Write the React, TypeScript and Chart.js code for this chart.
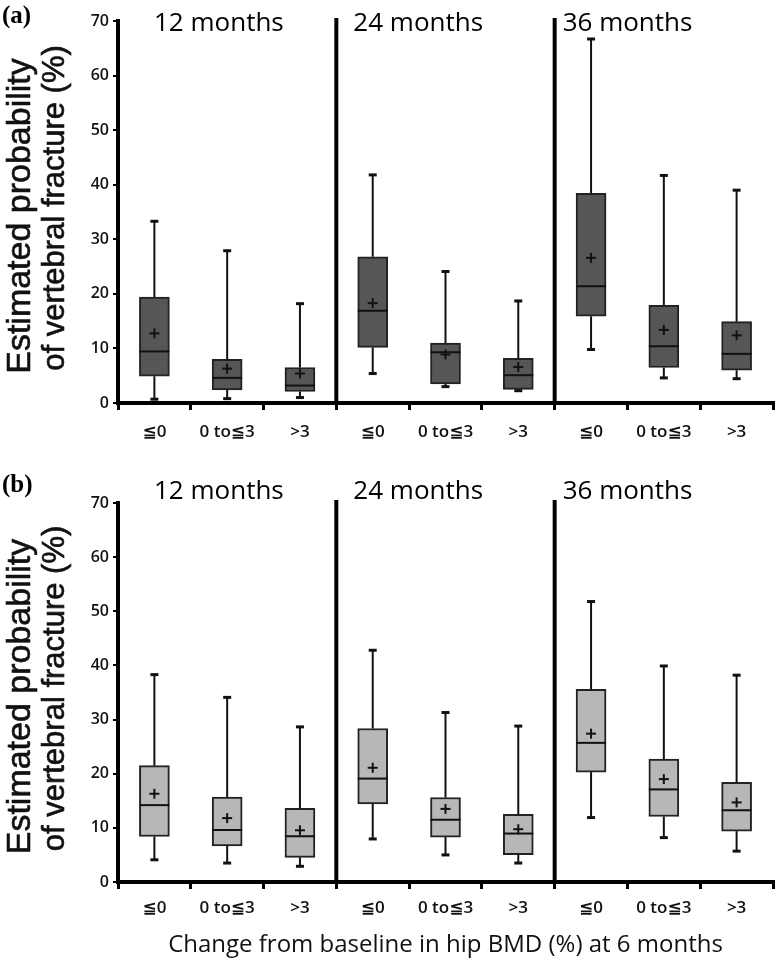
import React, { useEffect, useRef } from "react";
import { Chart, registerables } from "chart.js";
Chart.register(...registerables);

// ---------- data ----------
const categories = ["≦0", "0 to≦3", ">3", "≦0", "0 to≦3", ">3", "≦0", "0 to≦3", ">3"];
const groupTitles = ["12 months", "24 months", "36 months"];
const yAxisTitle = ["Estimated probability", "of vertebral fracture (%)"];
const xAxisTitle = "Change from baseline in hip BMD (%) at 6 months";

// panel (a)
const minA = [0.7, 0.8, 1.0, 5.4, 3.0, 2.25, 9.8, 4.6, 4.45];
const q1A = [4.9, 2.4, 2.1, 10.2, 3.5, 2.5, 15.9, 6.5, 6.0];
const medA = [9.45, 4.6, 3.2, 16.9, 9.3, 5.1, 21.4, 10.4, 9.0];
const q3A = [19.4, 8.0, 6.5, 26.8, 11.0, 8.2, 38.4, 17.9, 14.9];
const maxA = [33.3, 27.9, 18.2, 41.8, 24.1, 18.7, 66.7, 41.7, 39.0];
const meanA = [12.75, 6.3, 5.4, 18.3, 8.9, 6.6, 26.6, 13.4, 12.4];

// panel (b)
const minB = [4.1, 3.5, 2.9, 7.95, 5.0, 3.5, 11.9, 8.2, 5.7];
const q1B = [8.4, 6.65, 4.55, 14.4, 8.3, 5.05, 20.3, 12.1, 9.4];
const medB = [14.2, 9.6, 8.45, 19.1, 11.5, 8.95, 25.7, 17.1, 13.25];
const q3B = [21.5, 15.7, 13.6, 28.35, 15.6, 12.5, 35.6, 22.7, 18.4];
const maxB = [38.3, 34.1, 28.65, 42.8, 31.3, 28.8, 51.8, 39.9, 38.2];
const meanB = [16.3, 11.8, 9.55, 21.1, 13.5, 9.75, 27.4, 19.0, 14.7];

const yMin = 0;
const yMax = 70;
const yStep = 10;

type PanelDef = {
  tag: string;
  min: number[];
  q1: number[];
  med: number[];
  q3: number[];
  max: number[];
  mean: number[];
  fill: string;
  height: number;
  padTop: number;
  xAxisH: number;
  xPad: number;
  titleY: number;
  tagY: number;
  showXTitle: boolean;
};

const panels: PanelDef[] = [
  {
    tag: "(a)", min: minA, q1: q1A, med: medA, q3: q3A, max: maxA, mean: meanA,
    fill: "#565656", height: 460, padTop: 21, xAxisH: 57, xPad: 12, titleY: 24, tagY: 17, showXTitle: false,
  },
  {
    tag: "(b)", min: minB, q1: q1B, med: medB, q3: q3B, max: maxB, mean: meanB,
    fill: "#b7b7b7", height: 507, padTop: 43, xAxisH: 85, xPad: 9, titleY: 32, tagY: 26, showXTitle: true,
  },
];

const titleOffsets = [36, 17, 8];

function Panel({ p }: { p: PanelDef }) {
  const ref = useRef<HTMLCanvasElement | null>(null);
  useEffect(() => {
    const canvas = ref.current;
    if (!canvas) return;
    const extras = {
      id: "boxExtras",
      afterDatasetsDraw(chart: any) {
        const ctx = chart.ctx as CanvasRenderingContext2D;
        const ys = chart.scales.y;
        const xs = chart.scales.x;
        const area = chart.chartArea;
        const meta = chart.getDatasetMeta(0);
        const line = (x1: number, y1: number, x2: number, y2: number) => {
          ctx.beginPath();
          ctx.moveTo(x1, y1);
          ctx.lineTo(x2, y2);
          ctx.stroke();
        };
        ctx.save();
        ctx.strokeStyle = "#111";
        meta.data.forEach((bar: any, i: number) => {
          const cx = bar.x;
          const w = bar.width;
          const yq1 = ys.getPixelForValue(p.q1[i]);
          const yq3 = ys.getPixelForValue(p.q3[i]);
          const ymin = ys.getPixelForValue(p.min[i]);
          const ymax = ys.getPixelForValue(p.max[i]);
          const ymed = ys.getPixelForValue(p.med[i]);
          const ymean = ys.getPixelForValue(p.mean[i]);
          ctx.lineWidth = 2;
          line(cx, yq3, cx, ymax);
          line(cx, yq1, cx, ymin);
          ctx.lineWidth = 3;
          line(cx - 4, ymax, cx + 4, ymax);
          line(cx - 4, ymin, cx + 4, ymin);
          ctx.lineWidth = 2;
          line(cx - w / 2, ymed, cx + w / 2, ymed);
          line(cx - 5, ymean, cx + 5, ymean);
          line(cx, ymean - 5, cx, ymean + 5);
        });
        // group dividers
        const bnd = (i: number) => (xs.getPixelForValue(i) + xs.getPixelForValue(i + 1)) / 2;
        ctx.strokeStyle = "#000";
        ctx.lineWidth = 4;
        [2, 5].forEach((i) => line(bnd(i), area.top - 3, bnd(i), area.bottom));
        // group titles
        const lefts = [area.left, bnd(2), bnd(5)];
        ctx.fillStyle = "#000";
        ctx.font = "26px 'Open Sans'";
        ctx.textAlign = "left";
        ctx.textBaseline = "middle";
        groupTitles.forEach((t, g) => ctx.fillText(t, lefts[g] + titleOffsets[g], p.titleY));
        // panel tag
        ctx.font = "bold 25px 'Liberation Serif'";
        ctx.fillText(p.tag, 2, p.tagY);
        // y axis title
        const yc = (area.top + area.bottom) / 2;
        const drawV = (text: string, x: number, y: number, size: number) => {
          ctx.save();
          ctx.font = `${size}px 'Liberation Sans'`;
          ctx.fillStyle = "#111";
          ctx.strokeStyle = "#111";
          ctx.lineWidth = 0.6;
          ctx.textAlign = "center";
          ctx.textBaseline = "middle";
          ctx.translate(x, y);
          ctx.rotate(-Math.PI / 2);
          ctx.fillText(text, 0, 0);
          ctx.strokeText(text, 0, 0);
          ctx.restore();
        };
        drawV(yAxisTitle[0], 21, yc + 4, 34);
        drawV(yAxisTitle[1], 55, yc - 4, 31);
        if (p.showXTitle) {
          ctx.font = "24px 'Open Sans'";
          ctx.fillStyle = "#111";
          ctx.textAlign = "center";
          ctx.textBaseline = "middle";
          ctx.fillText(xAxisTitle, (area.left + area.right) / 2, 485);
        }
        ctx.restore();
      },
    };
    const chart = new Chart(canvas, {
      type: "bar",
      data: {
        labels: categories,
        datasets: [
          {
            data: p.q1.map((v, i) => [v, p.q3[i]]) as any,
            backgroundColor: p.fill,
            borderColor: "#222",
            borderWidth: 2,
            borderSkipped: false,
            barThickness: 30,
          },
        ],
      },
      options: {
        responsive: false,
        animation: false,
        devicePixelRatio: 1,
        layout: { padding: { top: p.padTop, right: 5, left: 0, bottom: 0 } },
        plugins: { legend: { display: false }, tooltip: { enabled: false } },
        scales: {
          x: {
            type: "category",
            offset: true,
            grid: { offset: true, drawOnChartArea: false, drawTicks: true, tickLength: 7, lineWidth: 3, color: "#000" },
            border: { display: true, width: 4, color: "#000" },
            ticks: { color: "#111", font: { family: "'Open Sans', 'DejaVu Sans'", size: 17, weight: "600" }, padding: p.xPad, maxRotation: 0, autoSkip: false },
            afterFit: (s: any) => { s.height = p.xAxisH; },
          },
          y: {
            min: yMin,
            max: yMax,
            ticks: { stepSize: yStep, color: "#111", font: { family: "'Open Sans'", size: 16, weight: "600" }, padding: 4 },
            grid: { drawOnChartArea: false, drawTicks: true, tickLength: 5, lineWidth: 2, color: "#000" },
            border: { display: true, width: 4, color: "#000" },
            afterFit: (s: any) => { s.width = 118; },
          },
        },
      } as any,
      plugins: [extras],
    });
    return () => chart.destroy();
  }, [p]);
  return <canvas ref={ref} width={778} height={p.height} style={{ display: "block", width: 778, height: p.height }} />;
}

export default function App() {
  return (
    <div style={{ position: "absolute", left: 0, top: 0, width: 778, height: 967, background: "#fff" }}>
      {panels.map((p) => (
        <Panel key={p.tag} p={p} />
      ))}
    </div>
  );
}
